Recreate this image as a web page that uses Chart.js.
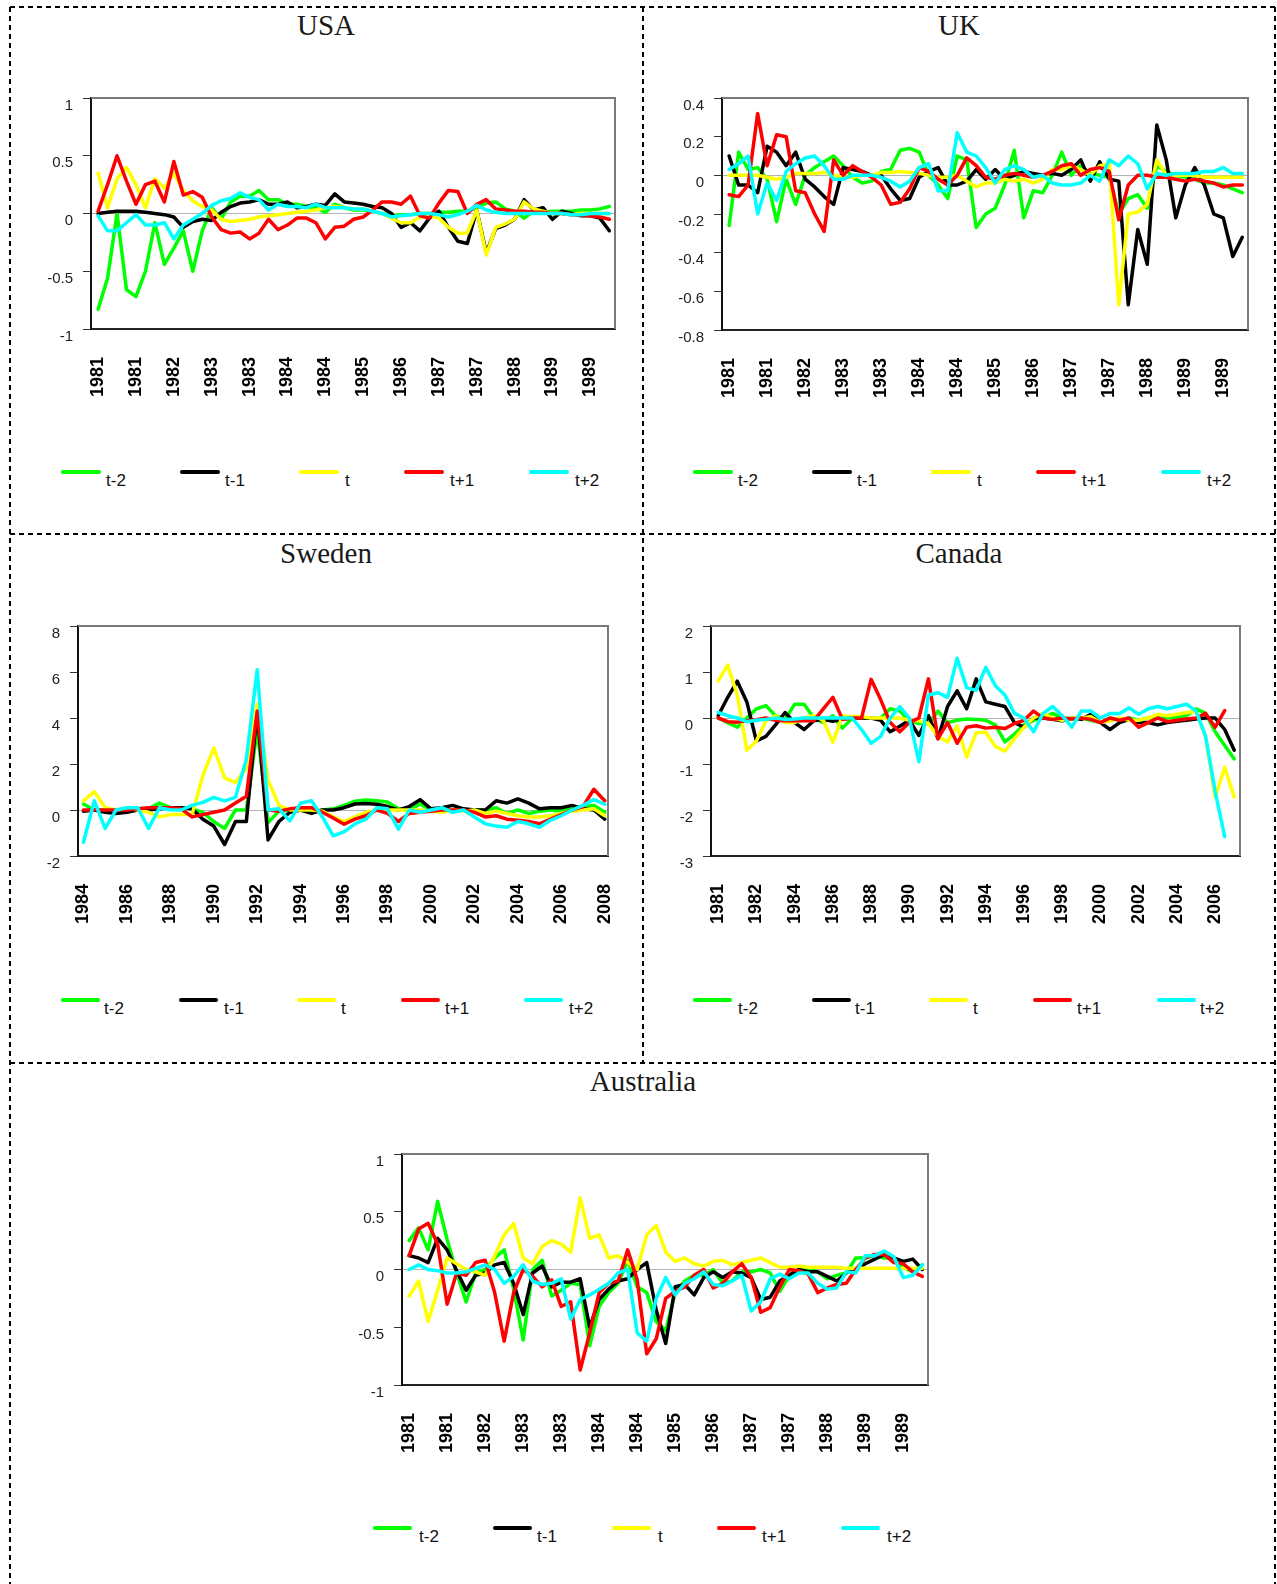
<!DOCTYPE html>
<html>
<head>
<meta charset="utf-8">
<script src="https://cdn.jsdelivr.net/npm/chart.js@4.4.1/dist/chart.umd.min.js"></script>
<style>
  html, body { margin:0; padding:0; background:#fff; }
  #page { position:relative; width:1277px; height:1584px; overflow:hidden; background:#fff; }
  canvas { position:absolute; }
  .title { position:absolute; font-family:"Liberation Serif", "DejaVu Serif", serif; font-size:29px; color:#1a1a1a; line-height:34px; height:34px; white-space:nowrap; transform:translateX(-50%); }
  .lgline { position:absolute; height:4px; border-radius:2px; }
  .lgtext { position:absolute; font-family:"Liberation Sans", Arial, sans-serif; font-size:17px; color:#111; line-height:20px; height:20px; white-space:nowrap; }
  svg { position:absolute; left:0; top:0; }
</style>
</head>
<body>
<div id="page">
<svg width="1277" height="1584" id="frames"></svg>
</div>
<script>
// ---------------- DATA ----------------
const seriesNames = ['t-2', 't-1', 't', 't+1', 't+2'];

// USA
const usaTicks = ['1981','1981','1982','1983','1983','1984','1984','1985','1986','1987','1987','1988','1989','1989'];
const usaTm2 = [-0.83,-0.56,0.0,-0.66,-0.72,-0.5,-0.08,-0.44,-0.3,-0.15,-0.5,-0.15,0.05,-0.05,0.1,0.15,0.15,0.2,0.12,0.12,0.08,0.08,0.06,0.05,0.01,0.08,0.05,0.03,0.03,0.02,0.0,-0.02,-0.01,-0.01,0.0,0.0,0.01,0.01,0.02,0.02,0.05,0.09,0.1,0.04,0.02,-0.04,0.02,0.01,0.02,0.02,0.02,0.03,0.03,0.04,0.06];
const usaTm1 = [0.0,0.01,0.02,0.02,0.02,0.01,0.0,-0.01,-0.03,-0.12,-0.07,-0.05,-0.06,0.01,0.06,0.09,0.1,0.12,0.08,0.08,0.1,0.05,0.06,0.08,0.07,0.17,0.1,0.09,0.08,0.06,0.05,0.0,-0.12,-0.08,-0.15,-0.04,0.02,-0.12,-0.24,-0.26,0.03,-0.34,-0.13,-0.1,-0.05,0.12,0.03,0.05,-0.05,0.02,0.0,-0.02,-0.02,-0.04,-0.15];
const usaT0 = [0.35,0.05,0.3,0.4,0.25,0.05,0.3,0.22,0.35,0.2,0.11,0.06,0.03,-0.05,-0.07,-0.06,-0.05,-0.03,-0.02,-0.01,0.0,0.01,0.02,0.03,0.05,0.06,0.05,0.04,0.04,0.02,0.0,-0.04,-0.08,-0.08,-0.03,-0.02,-0.04,-0.12,-0.17,-0.17,0.03,-0.36,-0.12,-0.09,-0.05,0.1,0.04,0.02,0.0,0.0,-0.01,0.0,0.0,0.0,0.0];
const usaTp1 = [0.02,0.25,0.5,0.28,0.08,0.25,0.28,0.1,0.45,0.16,0.19,0.14,-0.03,-0.14,-0.17,-0.16,-0.22,-0.17,-0.05,-0.14,-0.1,-0.04,-0.04,-0.08,-0.22,-0.12,-0.11,-0.05,-0.03,0.03,0.1,0.1,0.08,0.15,-0.02,-0.04,0.09,0.2,0.19,0.0,0.08,0.12,0.04,0.03,0.02,0.02,0.01,0.01,0.0,0.0,-0.01,-0.01,-0.02,-0.03,-0.05];
const usaTp2 = [-0.02,-0.15,-0.15,-0.08,-0.01,-0.1,-0.1,-0.08,-0.22,-0.1,-0.05,0.0,0.07,0.11,0.13,0.18,0.14,0.12,0.03,0.08,0.06,0.06,0.05,0.08,0.05,0.05,0.05,0.04,0.04,0.02,0.0,-0.03,-0.02,-0.01,0.0,0.0,-0.01,-0.03,-0.01,0.02,0.07,0.03,0.01,0.0,0.0,0.0,0.0,0.0,0.0,0.0,-0.01,-0.01,0.0,0.0,0.0];

// UK
const ukTicks = ['1981','1981','1982','1983','1983','1984','1984','1985','1986','1987','1987','1988','1989','1989'];
const ukTm2 = [-0.26,0.12,0.03,0.04,-0.02,-0.24,-0.02,-0.15,0.0,0.04,0.07,0.1,0.05,-0.01,-0.04,-0.03,0.02,0.03,0.13,0.14,0.12,0.0,-0.05,-0.12,0.1,0.08,-0.27,-0.2,-0.17,-0.05,0.13,-0.22,-0.08,-0.09,0.0,0.12,0.0,0.05,0.01,0.0,-0.01,-0.2,-0.12,-0.1,-0.17,0.05,0.02,0.0,-0.01,-0.02,-0.04,-0.04,-0.05,-0.07,-0.09];
const ukTm1 = [0.1,-0.05,-0.05,-0.09,0.15,0.12,0.05,0.12,-0.02,-0.06,-0.11,-0.15,0.04,0.03,0.02,0.0,0.0,-0.07,-0.13,-0.12,-0.01,0.02,0.04,-0.05,-0.05,-0.03,0.03,-0.02,0.03,-0.02,0.0,0.02,0.01,0.0,0.01,0.0,0.03,0.08,-0.03,0.07,-0.02,-0.03,-0.67,-0.28,-0.46,0.26,0.08,-0.22,-0.05,0.04,-0.05,-0.2,-0.22,-0.42,-0.32];
const ukT0 = [0.0,0.0,0.0,0.0,-0.01,-0.02,-0.01,0.01,0.01,0.01,0.015,0.0,-0.01,-0.01,0.0,0.0,0.015,0.015,0.02,0.015,0.01,0.0,-0.01,-0.01,0.0,-0.03,-0.06,-0.04,-0.04,-0.02,-0.03,-0.02,-0.04,-0.02,0.03,0.03,0.05,0.03,0.0,0.05,0.06,-0.67,-0.2,-0.19,-0.15,0.08,0.0,0.0,0.0,0.0,-0.01,-0.01,-0.01,-0.01,-0.01];
const ukTp1 = [-0.1,-0.11,-0.05,0.32,0.05,0.21,0.2,-0.08,-0.09,-0.2,-0.29,0.08,0.0,0.05,0.02,-0.01,-0.05,-0.15,-0.14,-0.07,0.04,0.02,-0.02,-0.05,0.0,0.09,0.05,-0.01,-0.02,0.0,0.01,0.0,-0.01,0.0,0.02,0.05,0.06,0.0,0.03,0.04,0.02,-0.23,-0.05,0.0,0.0,-0.01,-0.01,-0.02,-0.03,-0.02,-0.03,-0.04,-0.06,-0.05,-0.05];
const ukTp2 = [0.03,0.06,0.1,-0.2,-0.04,-0.13,0.02,0.06,0.09,0.1,0.05,-0.02,-0.02,0.0,0.0,0.0,-0.01,-0.03,-0.06,-0.03,0.04,0.06,-0.08,-0.08,0.22,0.12,0.1,0.04,-0.04,0.03,0.05,0.03,-0.01,0.0,-0.04,-0.05,-0.05,-0.04,0.0,-0.03,0.08,0.05,0.1,0.06,-0.07,0.01,0.0,0.01,0.01,0.01,0.02,0.02,0.04,0.01,0.01];

// Sweden
const swedenTicks = ['1984','1986','1988','1990','1992','1994','1996','1998','2000','2002','2004','2006','2008'];
const swedenTm2 = [0.26,0.0,0.0,-0.1,0.0,0.0,0.05,0.3,0.1,0.1,0.05,-0.1,-0.5,-0.8,0.0,0.0,3.5,-0.55,-0.05,0.0,0.0,-0.1,0.0,0.05,0.2,0.38,0.43,0.4,0.35,0.05,0.0,0.26,0.0,0.0,0.0,0.0,0.0,0.0,0.1,-0.15,0.0,-0.15,-0.05,0.0,-0.05,0.1,0.15,0.2,-0.1];
const swedenTm1 = [-0.05,0.0,-0.1,-0.15,-0.1,0.0,0.0,0.05,0.1,0.1,0.05,-0.4,-0.7,-1.5,-0.5,-0.5,4.3,-1.3,-0.5,-0.1,0.0,-0.15,0.0,0.0,0.1,0.26,0.28,0.25,0.15,0.0,0.15,0.45,0.05,0.1,0.2,0.05,0.0,0.0,0.4,0.3,0.48,0.3,0.05,0.1,0.1,0.2,0.05,0.0,-0.4];
const swedenT0 = [0.4,0.8,0.1,0.0,0.1,0.0,-0.1,-0.3,-0.2,-0.2,-0.2,1.5,2.7,1.4,1.2,1.8,4.6,1.3,0.2,0.0,0.0,0.0,-0.05,-0.3,-0.5,-0.3,-0.1,0.0,0.0,0.0,0.0,0.0,-0.05,-0.1,0.0,-0.05,0.0,-0.15,-0.05,-0.15,-0.25,-0.3,-0.3,-0.25,-0.15,-0.05,0.0,0.05,-0.25];
const swedenTp1 = [0.0,0.0,0.0,0.0,0.0,0.05,0.1,0.1,0.1,0.05,-0.3,-0.2,-0.1,0.0,0.3,0.6,4.3,0.0,-0.05,0.05,0.1,0.1,-0.1,-0.35,-0.62,-0.4,-0.25,0.0,-0.15,-0.5,-0.15,-0.1,-0.05,0.0,0.0,0.0,-0.1,-0.3,-0.25,-0.4,-0.45,-0.5,-0.6,-0.4,-0.2,0.0,0.15,0.9,0.4];
const swedenTp2 = [-1.4,0.4,-0.8,0.0,0.1,0.1,-0.8,0.1,0.0,0.0,0.2,0.33,0.55,0.4,0.55,2.2,6.1,0.0,0.05,-0.47,0.3,0.4,-0.3,-1.12,-0.95,-0.6,-0.4,0.1,0.05,-0.83,0.0,-0.1,0.0,0.1,-0.1,0.0,-0.3,-0.6,-0.7,-0.75,-0.5,-0.6,-0.75,-0.45,-0.25,0.0,0.2,0.45,0.25];

// Canada
const canadaTicks = ['1981','1982','1984','1986','1988','1990','1992','1994','1996','1998','2000','2002','2004','2006'];
const canadaTm2 = [0.0,-0.1,-0.2,0.0,0.2,0.27,0.05,-0.03,0.3,0.3,0.0,-0.1,0.05,-0.22,-0.01,0.0,0.0,0.0,0.2,0.15,-0.05,-0.12,-0.12,0.15,-0.1,-0.05,-0.02,-0.03,-0.05,-0.15,-0.52,-0.35,-0.15,-0.05,0.0,0.1,0.0,-0.02,0.0,-0.05,-0.1,0.0,-0.05,0.0,-0.05,0.0,0.0,0.0,0.02,0.05,0.2,0.1,-0.3,-0.6,-0.89];
const canadaTm1 = [0.05,0.45,0.8,0.35,-0.5,-0.4,-0.15,0.12,-0.1,-0.25,-0.06,-0.03,-0.07,-0.02,0.0,0.0,0.0,-0.05,-0.3,-0.18,-0.05,-0.38,0.05,-0.45,0.25,0.59,0.2,0.85,0.35,0.3,0.25,-0.1,-0.2,0.0,0.0,-0.03,-0.06,0.0,-0.03,0.08,-0.1,-0.25,-0.1,-0.03,-0.1,-0.1,-0.15,-0.1,-0.07,-0.05,-0.02,0.0,0.0,-0.25,-0.7];
const canadaT0 = [0.8,1.15,0.5,-0.7,-0.5,-0.06,0.05,-0.1,-0.1,0.0,0.05,-0.05,-0.53,0.05,0.03,0.03,0.0,0.0,0.0,0.0,-0.05,-0.06,-0.12,-0.4,-0.52,-0.17,-0.85,-0.32,-0.31,-0.62,-0.72,-0.45,-0.2,0.0,0.1,0.0,-0.05,0.0,0.0,0.03,-0.1,-0.06,0.0,-0.05,-0.05,0.0,0.08,0.05,0.08,0.12,0.14,-0.4,-1.72,-1.07,-1.72];
const canadaTp1 = [0.0,-0.08,-0.09,-0.06,-0.04,0.0,-0.05,-0.06,-0.06,-0.06,-0.06,0.2,0.45,-0.03,0.0,0.0,0.84,0.4,-0.1,-0.3,-0.1,0.0,0.85,-0.45,-0.1,-0.55,-0.2,-0.17,-0.22,-0.2,-0.23,-0.12,-0.05,0.15,0.0,-0.03,0.0,-0.02,0.0,-0.03,-0.1,0.0,-0.05,0.0,-0.2,-0.1,0.0,-0.08,-0.05,-0.02,0.0,0.1,-0.2,0.16,null];
const canadaTp2 = [0.12,0.05,0.0,-0.08,-0.05,-0.03,0.0,-0.03,-0.02,0.0,0.0,0.0,0.0,0.0,0.0,-0.25,-0.55,-0.4,0.0,0.25,0.0,-0.95,0.5,0.55,0.45,1.3,0.66,0.6,1.1,0.7,0.5,0.1,0.0,-0.3,0.1,0.25,0.05,-0.2,0.15,0.15,0.0,0.1,0.1,0.22,0.08,0.2,0.25,0.2,0.25,0.3,0.15,-0.4,-1.6,-2.58,null];

// Australia
const ausTicks = ['1981','1981','1982','1983','1983','1984','1984','1985','1986','1987','1987','1988','1989','1989'];
const ausTm2 = [0.25,0.36,0.17,0.59,0.26,-0.03,-0.28,-0.03,0.0,0.1,0.17,-0.17,-0.61,0.0,0.08,-0.23,-0.18,-0.12,-0.13,-0.66,-0.32,-0.2,-0.12,0.08,-0.15,-0.2,-0.45,-0.53,-0.2,-0.1,-0.05,-0.05,0.0,-0.12,-0.1,-0.02,-0.02,0.0,-0.03,-0.19,-0.05,0.0,0.0,-0.02,-0.08,-0.05,-0.03,0.1,0.1,0.12,0.1,0.1,0.02,-0.02,0.04];
const ausTm1 = [0.12,0.1,0.06,0.27,0.17,-0.01,-0.18,-0.05,-0.03,0.04,0.06,-0.12,-0.39,-0.03,0.03,-0.15,-0.11,-0.11,-0.08,-0.5,-0.26,-0.17,-0.1,-0.08,0.0,0.06,-0.35,-0.64,-0.15,-0.13,-0.22,-0.07,-0.02,-0.07,-0.02,-0.03,-0.07,-0.26,-0.24,-0.1,-0.05,0.0,-0.02,-0.02,-0.06,-0.1,-0.03,0.0,0.05,0.09,0.13,0.1,0.07,0.09,0.0];
const ausT0 = [-0.23,-0.1,-0.45,-0.18,0.1,0.05,0.0,-0.02,-0.05,0.12,0.3,0.4,0.1,0.05,0.2,0.25,0.22,0.15,0.62,0.27,0.3,0.1,0.12,0.06,0.0,0.3,0.38,0.15,0.07,0.1,0.05,0.03,0.07,0.08,0.04,0.06,0.08,0.1,0.06,0.02,0.02,0.03,0.02,0.02,0.02,0.02,0.01,0.01,0.01,0.01,0.01,0.01,0.01,0.01,0.01];
const ausTp1 = [0.12,0.35,0.4,0.22,-0.3,-0.03,-0.05,0.06,0.08,-0.2,-0.62,-0.2,0.0,-0.06,-0.15,-0.09,-0.32,-0.28,-0.87,-0.55,-0.2,-0.12,-0.1,0.17,-0.09,-0.73,-0.6,-0.25,-0.19,-0.15,-0.05,0.0,-0.16,-0.12,-0.02,0.05,-0.07,-0.37,-0.33,-0.15,0.0,-0.01,-0.04,-0.2,-0.16,-0.13,-0.12,0.0,0.1,0.13,0.13,0.06,0.05,-0.02,-0.06];
const ausTp2 = [0.0,0.04,0.0,-0.01,-0.03,-0.03,-0.02,0.01,0.04,0.0,-0.12,-0.06,0.04,-0.1,-0.13,-0.12,-0.08,-0.43,-0.26,-0.22,-0.17,-0.12,-0.03,0.0,-0.55,-0.62,-0.25,-0.07,-0.22,-0.12,-0.08,-0.02,-0.13,-0.14,-0.1,-0.05,-0.36,-0.28,-0.08,-0.04,-0.08,-0.03,-0.03,-0.12,-0.17,-0.16,-0.02,-0.03,0.12,0.12,0.16,0.11,-0.07,-0.05,0.04];

// ---------------- STYLE / LAYOUT ----------------
const seriesColors = ['#00ff00', '#000000', '#ffff00', '#ff0000', '#00ffff'];
const YW = 70, PT = 12, PR = 60, XH = 90, TOPFIX = 7;

const panels = [
  { title:'USA', tx:326, ty:25, area:{L:91,T:98,R:615,B:329}, x:{min:-0.75,max:54.6,step:4}, ticks:usaTicks,
    y:{min:-1,max:1,step:0.5}, series:[usaTm2,usaTm1,usaT0,usaTp1,usaTp2],
    legend:{ y:472, lines:[61,180,299,404,529], texts:[106,225,345,450,575], len:40 } },
  { title:'UK', tx:959, ty:25, area:{L:722,T:98,R:1248,B:330}, x:{min:-0.75,max:54.6,step:4}, ticks:ukTicks,
    y:{min:-0.8,max:0.4,step:0.2}, series:[ukTm2,ukTm1,ukT0,ukTp1,ukTp2],
    legend:{ y:472, lines:[693,812,931,1036,1161], texts:[738,857,977,1082,1207], len:40 } },
  { title:'Sweden', tx:326, ty:553, area:{L:78,T:626,R:608,B:856}, x:{min:-0.5,max:48.3,step:4}, ticks:swedenTicks,
    y:{min:-2,max:8,step:2}, series:[swedenTm2,swedenTm1,swedenT0,swedenTp1,swedenTp2],
    legend:{ y:1000, lines:[61,179,297,401,524], texts:[104,224,341,445,569], len:39 } },
  { title:'Canada', tx:959, ty:553, area:{L:711,T:626,R:1240,B:856}, x:{min:-0.75,max:54.6,step:4}, ticks:canadaTicks,
    y:{min:-3,max:2,step:1}, series:[canadaTm2,canadaTm1,canadaT0,canadaTp1,canadaTp2],
    legend:{ y:1000, lines:[693,812,929,1033,1157], texts:[738,855,973,1077,1200], len:39 } },
  { title:'Australia', tx:643, ty:1081, area:{L:402,T:1154,R:928,B:1385}, x:{min:-0.75,max:54.6,step:4}, ticks:ausTicks,
    y:{min:-1,max:1,step:0.5}, series:[ausTm2,ausTm1,ausT0,ausTp1,ausTp2],
    legend:{ y:1528, lines:[373,493,612,717,841], texts:[419,537,658,762,887], len:39 } }
];

// dashed frame lines
const svg = document.getElementById('frames');
const dashed = [
  [10,7,1275,7],[10,7,10,1584],[1275,7,1275,1584],[643,7,643,1063],[10,534,1275,534],[10,1063,1275,1063]
];
dashed.forEach(([x1,y1,x2,y2]) => {
  const l = document.createElementNS('http://www.w3.org/2000/svg','line');
  l.setAttribute('x1',x1); l.setAttribute('y1',y1); l.setAttribute('x2',x2); l.setAttribute('y2',y2);
  l.setAttribute('stroke','#000'); l.setAttribute('stroke-width','2'); l.setAttribute('stroke-dasharray','5,4');
  svg.appendChild(l);
});

const framePlugin = {
  id: 'frame',
  afterDraw(chart) {
    const { ctx, chartArea: a } = chart;
    ctx.save();
    ctx.strokeStyle = '#7a7a7a';
    ctx.lineWidth = 2;
    ctx.beginPath();
    ctx.moveTo(a.left, a.top);
    ctx.lineTo(a.right, a.top);
    ctx.lineTo(a.right, a.bottom);
    ctx.stroke();
    ctx.restore();
  }
};

Chart.defaults.font.family = '"Liberation Sans", Arial, sans-serif';
const page = document.getElementById('page');
const fmt = v => String(Math.round(v * 10) / 10);

panels.forEach(p => {
  // title
  const t = document.createElement('div');
  t.className = 'title'; t.textContent = p.title;
  t.style.left = p.tx + 'px'; t.style.top = (p.ty - 17) + 'px';
  page.appendChild(t);

  // canvas
  const a = p.area;
  const cw = a.R - a.L + YW + PR, ch = a.B - a.T + PT + TOPFIX + XH;
  const cv = document.createElement('canvas');
  cv.width = cw; cv.height = ch;
  cv.style.left = (a.L - YW) + 'px'; cv.style.top = (a.T - PT - TOPFIX) + 'px';
  cv.style.width = cw + 'px'; cv.style.height = ch + 'px';
  page.appendChild(cv);

  const tickIdx = p.ticks.map((_, i) => i * p.x.step);
  new Chart(cv.getContext('2d'), {
    type: 'line',
    data: {
      datasets: p.series.map((arr, k) => ({
        label: seriesNames[k],
        data: arr.map((v, i) => ({ x: i, y: v })),
        borderColor: seriesColors[k],
        backgroundColor: seriesColors[k],
        borderWidth: 3.5,
        pointRadius: 0,
        tension: 0,
        borderJoinStyle: 'round',
        borderCapStyle: 'round',
        order: 4 - k
      }))
    },
    options: {
      responsive: false,
      animation: false,
      devicePixelRatio: 1,
      layout: { padding: { left: 0, top: PT, right: PR, bottom: 0 } },
      plugins: { legend: { display: false }, tooltip: { enabled: false }, title: { display: false } },
      scales: {
        x: {
          type: 'linear', min: p.x.min, max: p.x.max,
          afterBuildTicks: s => { s.ticks = tickIdx.map(v => ({ value: v })); },
          afterFit: s => { s.height = XH; },
          ticks: {
            autoSkip: false, maxRotation: 90, minRotation: 90, padding: 28,
            font: { size: 18, weight: 'bold' }, color: '#000',
            callback: (v, i) => p.ticks[i]
          },
          grid: { display: true, drawOnChartArea: false, drawTicks: false },
          border: { display: true, color: '#222', width: 2 }
        },
        y: {
          min: p.y.min, max: p.y.max,
          afterFit: s => { s.width = YW; },
          ticks: { stepSize: p.y.step, font: { size: 15 }, color: '#222', padding: 10, labelOffset: 7.5, callback: v => fmt(v) },
          grid: {
            color: c => (c.tick && Math.abs(c.tick.value) < 1e-9) ? '#b3b3b3' : 'rgba(0,0,0,0)',
            tickColor: '#333', tickLength: 8, lineWidth: 1
          },
          border: { display: true, color: '#111', width: 2 }
        }
      }
    },
    plugins: [framePlugin]
  });

  // legend
  p.series.forEach((_, k) => {
    const ln = document.createElement('div');
    ln.className = 'lgline';
    ln.style.left = p.legend.lines[k] + 'px';
    ln.style.top = (p.legend.y - 2) + 'px';
    ln.style.width = p.legend.len + 'px';
    ln.style.background = seriesColors[k];
    page.appendChild(ln);
    const tx = document.createElement('div');
    tx.className = 'lgtext';
    tx.textContent = seriesNames[k];
    tx.style.left = p.legend.texts[k] + 'px';
    tx.style.top = (p.legend.y + 8.5 - 10) + 'px';
    page.appendChild(tx);
  });
});
</script>
</body>
</html>
